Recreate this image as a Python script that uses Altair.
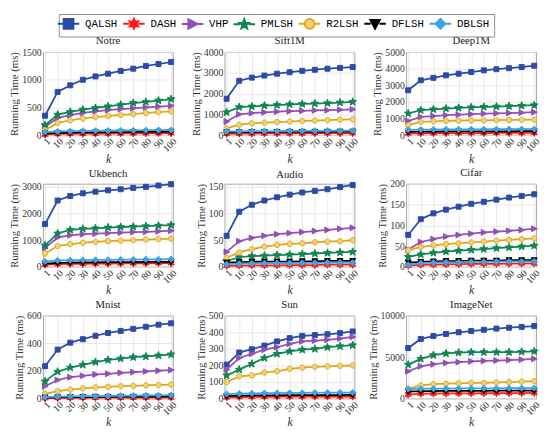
import math
import altair as alt
import pandas as pd

K = [1, 10, 20, 30, 40, 50, 60, 70, 80, 90, 100]
METHODS = ["QALSH", "DASH", "VHP", "PMLSH", "R2LSH", "DFLSH", "DBLSH"]

# values per dataset, rows in METHODS order
NOTRE = [
    [350, 780, 900, 1000, 1060, 1110, 1160, 1200, 1250, 1285, 1320],
    [10, 20, 22, 25, 27, 28, 30, 32, 33, 35, 36],
    [150, 310, 360, 400, 430, 450, 470, 485, 500, 515, 530],
    [180, 370, 420, 460, 490, 520, 550, 580, 600, 625, 650],
    [90, 220, 265, 300, 325, 345, 365, 380, 400, 415, 430],
    [30, 40, 45, 48, 50, 52, 55, 57, 58, 60, 62],
    [55, 65, 70, 75, 78, 80, 83, 86, 88, 90, 92],
]
SIFT1M = [
    [1750, 2620, 2770, 2870, 2960, 3030, 3100, 3150, 3200, 3240, 3280],
    [60, 70, 75, 80, 80, 85, 85, 90, 90, 90, 95],
    [650, 1000, 1060, 1100, 1130, 1150, 1170, 1190, 1200, 1220, 1240],
    [1100, 1350, 1380, 1420, 1450, 1480, 1500, 1520, 1540, 1570, 1600],
    [320, 500, 570, 600, 630, 650, 680, 700, 720, 740, 760],
    [130, 140, 145, 150, 150, 155, 155, 160, 160, 165, 165],
    [180, 185, 190, 195, 195, 200, 200, 205, 205, 210, 210],
]
DEEP1M = [
    [2700, 3300, 3450, 3600, 3700, 3800, 3900, 3970, 4030, 4100, 4180],
    [100, 110, 115, 120, 120, 125, 125, 130, 130, 130, 135],
    [850, 1100, 1150, 1200, 1230, 1260, 1290, 1310, 1330, 1350, 1380],
    [1300, 1500, 1550, 1600, 1640, 1670, 1700, 1720, 1740, 1770, 1800],
    [600, 800, 830, 850, 870, 880, 890, 900, 910, 920, 930],
    [200, 210, 215, 220, 220, 225, 225, 230, 230, 235, 235],
    [320, 330, 335, 340, 345, 350, 350, 355, 355, 360, 360],
]
UKBENCH = [
    [1600, 2480, 2650, 2750, 2810, 2860, 2900, 2950, 2990, 3040, 3090],
    [80, 100, 110, 115, 120, 125, 130, 130, 135, 140, 140],
    [700, 1100, 1180, 1220, 1240, 1260, 1280, 1300, 1310, 1330, 1350],
    [800, 1250, 1380, 1420, 1440, 1470, 1490, 1500, 1520, 1540, 1560],
    [500, 780, 850, 900, 930, 960, 980, 1000, 1020, 1040, 1060],
    [120, 150, 160, 165, 170, 175, 180, 180, 185, 190, 190],
    [200, 240, 250, 255, 260, 265, 270, 275, 280, 285, 290],
]
AUDIO = [
    [58, 103, 116, 124, 130, 135, 139, 142, 145, 149, 153],
    [2, 2.5, 3, 3, 3, 3.5, 3.5, 3.5, 4, 4, 4],
    [28, 48, 54, 58, 61, 63, 65, 67, 69, 71, 73],
    [11, 18, 20, 21, 22, 23, 24, 25, 26, 27, 28],
    [17, 27, 33, 38, 41, 43, 44, 46, 47, 48, 50],
    [8, 9, 9.5, 10, 10, 10, 10.5, 10.5, 11, 11, 11],
    [5, 6, 6.5, 7, 7, 7, 7.5, 7.5, 8, 8, 8],
]
CIFAR = [
    [77, 115, 129, 138, 145, 152, 157, 162, 167, 171, 175],
    [3, 5, 5.5, 6, 6.5, 7, 7, 7.5, 8, 8, 8.5],
    [42, 60, 67, 73, 77, 80, 83, 85, 87, 89, 92],
    [24, 30, 34, 37, 39, 41, 43, 45, 47, 49, 51],
    [40, 48, 52, 55, 57, 59, 61, 63, 65, 67, 69],
    [10, 12, 13, 14, 14, 15, 15, 15, 16, 16, 16],
    [5, 9, 10, 11, 11, 12, 12, 12.5, 13, 13, 13.5],
]
MNIST = [
    [235, 355, 405, 430, 455, 475, 490, 505, 520, 535, 545],
    [4, 5, 6, 6, 7, 7, 7, 8, 8, 8, 9],
    [90, 135, 155, 165, 175, 180, 187, 192, 197, 202, 207],
    [125, 195, 225, 245, 265, 280, 290, 300, 305, 312, 320],
    [35, 55, 65, 75, 82, 86, 90, 93, 96, 99, 102],
    [8, 10, 11, 12, 13, 13, 14, 14, 15, 15, 16],
    [12, 15, 17, 18, 19, 20, 21, 22, 23, 24, 25],
]
SUN = [
    [205, 278, 298, 320, 345, 365, 378, 383, 388, 395, 405],
    [8, 10, 11, 11, 12, 12, 12, 13, 13, 13, 13],
    [175, 245, 270, 295, 310, 330, 345, 350, 355, 362, 372],
    [140, 175, 210, 245, 270, 285, 295, 300, 310, 316, 322],
    [100, 135, 140, 158, 165, 180, 187, 192, 195, 198, 200],
    [15, 18, 19, 20, 20, 21, 21, 22, 22, 22, 23],
    [28, 30, 32, 33, 34, 35, 35, 36, 36, 37, 37],
]
IMAGENET = [
    [6100, 7200, 7550, 7800, 8000, 8150, 8300, 8450, 8550, 8650, 8750],
    [500, 600, 620, 630, 640, 650, 660, 660, 670, 680, 690],
    [3300, 3900, 4150, 4300, 4400, 4500, 4550, 4600, 4650, 4700, 4800],
    [4100, 4800, 5250, 5450, 5550, 5600, 5600, 5600, 5600, 5650, 5700],
    [1200, 1600, 1750, 1800, 1850, 1900, 1900, 1950, 2000, 2050, 2100],
    [850, 900, 920, 930, 940, 950, 950, 960, 960, 970, 980],
    [1150, 1200, 1200, 1220, 1230, 1240, 1250, 1250, 1260, 1270, 1280],
]

DATASETS = ["Notre", "Sift1M", "Deep1M", "Ukbench", "Audio", "Cifar", "Mnist", "Sun", "ImageNet"]
VALUES = [NOTRE, SIFT1M, DEEP1M, UKBENCH, AUDIO, CIFAR, MNIST, SUN, IMAGENET]
Y_TOP = [1500, 4000, 5000, 3100, 155, 200, 600, 500, 10000]
Y_TICKS = [
    [0, 500, 1000, 1500],
    [0, 1000, 2000, 3000, 4000],
    [0, 1000, 2000, 3000, 4000, 5000],
    [0, 1000, 2000, 3000],
    [0, 50, 100, 150],
    [0, 50, 100, 150, 200],
    [0, 200, 400, 600],
    [0, 100, 200, 300, 400, 500],
    [0, 5000, 10000],
]

# ---- styling ----
COLORS = ["#2B4BA8", "#FF1A1A", "#9150B8", "#0E8552", "#DCA71F", "#000000", "#3EA3E3"]
FILLS = ["#2B4BA8", "#FF1A1A", "#9150B8", "#0E8552", "#F3D370", "#000000", "#3EA3E3"]


def star_path(n, inner):
    pts = []
    for i in range(2 * n):
        a = math.radians(-90 + 180.0 / n * i)
        r = 1.0 if i % 2 == 0 else inner
        pts.append((r * math.cos(a), r * math.sin(a)))
    return "M" + "L".join(f"{x:.3f},{y:.3f}" for x, y in pts) + "Z"


STAR5 = star_path(5, 0.42)
HEX6 = star_path(6, 0.5)
SQUARE = "M-1,-1H1V1H-1Z"
TRI_R = "M1,0L-0.85,-0.95L-0.85,0.95Z"
CIRCLE = "M-1,0A1,1,0,1,0,1,0A1,1,0,1,0,-1,0Z"
TRI_D = "M0,1L-0.95,-0.8L0.95,-0.8Z"
DIAMOND = "M0,-1L1,0L0,1L-1,0Z"
MARKER_PATHS = [SQUARE, HEX6, TRI_R, STAR5, CIRCLE, TRI_D, DIAMOND]
SIZES = [26, 55, 40, 70, 30, 40, 40]
LEG_PATHS = ["M-2.2,0H-0.9M0.9,0H2.2" + p for p in MARKER_PATHS]

FONT = "Liberation Serif"
W, H = 133, 85

xs = [str(k) for k in K]


def panel(i):
    name = DATASETS[i]
    rows = []
    for m, ys in zip(METHODS, VALUES[i]):
        for k, y in zip(xs, ys):
            rows.append({"k": k, "t": y, "method": m})
    df = pd.DataFrame(rows)
    xenc = alt.X(
        "k:O",
        sort=xs,
        scale=alt.Scale(type="point", padding=0.15),
        axis=alt.Axis(title="k", labelAngle=315, labelPadding=1, titleFont=FONT,
                      titleFontStyle="italic", titleFontWeight="normal",
                      titleFontSize=12, titlePadding=0),
    )
    yenc = alt.Y(
        "t:Q",
        scale=alt.Scale(domain=[0, Y_TOP[i]], nice=False),
        axis=alt.Axis(title="Running Time (ms)", values=Y_TICKS[i], format="d",
                      titlePadding=2, labelPadding=2),
    )
    base = alt.Chart(df)
    layers = []
    for j, m in enumerate(METHODS):
        sub = base.transform_filter(alt.datum.method == m)
        layers.append(sub.mark_line(color=COLORS[j], strokeWidth=1.8).encode(x=xenc, y=yenc))
        layers.append(
            sub.mark_point(shape=MARKER_PATHS[j], filled=True, fill=FILLS[j], stroke=COLORS[j],
                           strokeWidth=1, size=SIZES[j], opacity=1).encode(x=xenc, y=yenc)
        )
    if i == 0:
        leg = alt.Legend(
            orient="none", legendX=16, legendY=-39, direction="horizontal",
            symbolSize=100, symbolStrokeWidth=2, symbolOpacity=1, symbolOffset=0,
            labelOffset=11, columnPadding=1, padding=4, strokeColor="#8c8c8c",
            fillColor="white", labelFont="Liberation Mono", labelFontSize=11,
            labelFontWeight="normal", labelColor="#000000",
        )
        ldf = pd.DataFrame({"method": METHODS})
        layers.append(
            alt.Chart(ldf).mark_point(filled=True, opacity=0).encode(
                shape=alt.Shape("method:N", title=None, legend=leg,
                                scale=alt.Scale(domain=METHODS, range=LEG_PATHS)),
                stroke=alt.Stroke("method:N", title=None, legend=leg,
                                  scale=alt.Scale(domain=METHODS, range=COLORS)),
                fill=alt.Fill("method:N", title=None, legend=leg,
                              scale=alt.Scale(domain=METHODS, range=FILLS)),
            )
        )
    return alt.layer(*layers).properties(
        width=W, height=H,
        title=alt.TitleParams(name, fontSize=11, font=FONT, fontWeight="normal",
                              offset=1, color="#222222", frame="group"),
    )


chart = alt.concat(*[panel(i) for i in range(9)], columns=3,
                   spacing={"row": 50, "column": 53}, bounds="flush").properties(
    padding={"left": 0, "top": 0, "right": 0, "bottom": 0}
).configure_view(stroke="#8c8c8c", strokeWidth=0.8).configure_axis(
    grid=True, gridColor="#e3e3e3", gridWidth=0.8, domain=False, ticks=False,
    labelFont=FONT, labelFontSize=10, labelColor="#333333",
    titleFont=FONT, titleFontSize=11, titleFontWeight="normal", titleColor="#333333",
).configure_title(font=FONT, fontWeight="normal")

chart.save("out.html", embed_options={"renderer": "svg", "actions": False})
